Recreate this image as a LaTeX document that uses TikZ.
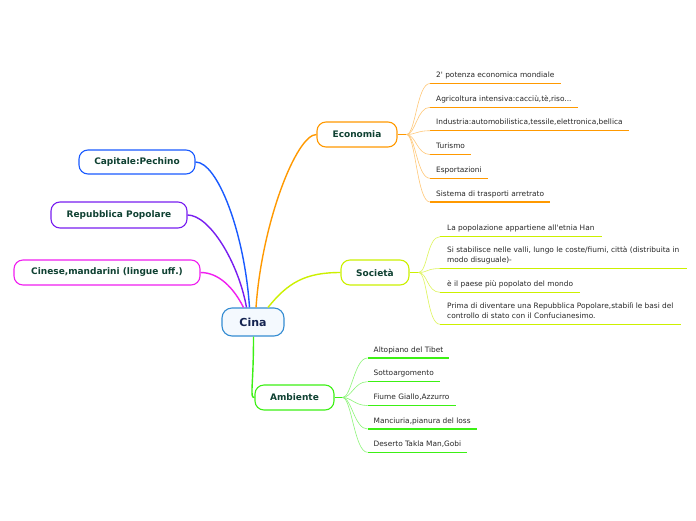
\documentclass[tikz,border=0pt]{standalone}
\usepackage{fontspec}
\setmainfont{DejaVu Sans}
\newfontfamily\plainfont{DejaVu Sans}
\definecolor{cinaB}{RGB}{52,140,210}
\definecolor{cinaF}{RGB}{244,249,254}
\definecolor{ecoC}{RGB}{255,153,0}
\definecolor{ecoL}{RGB}{255,200,120}
\definecolor{socC}{RGB}{204,240,0}
\definecolor{socL}{RGB}{222,245,90}
\definecolor{ambC}{RGB}{60,240,20}
\definecolor{ambL}{RGB}{140,245,120}
\definecolor{capC}{RGB}{25,90,255}
\definecolor{repC}{RGB}{120,30,240}
\definecolor{linC}{RGB}{240,30,240}
\definecolor{maintext}{RGB}{15,65,50}
\definecolor{cinatext}{RGB}{20,35,80}
\definecolor{leaftext}{RGB}{40,40,40}
\begin{document}
\begin{tikzpicture}[x=1pt,y=-1pt,
  mainbox/.style={draw, line width=1.1pt, rounded corners=9pt, fill=white, text=maintext,
    font=\fontsize{9}{11}\selectfont\bfseries, minimum height=25pt, inner sep=0pt},
  leaf/.style={anchor=south west, inner xsep=6pt, inner ysep=4pt, text=leaftext,
    font=\plainfont\fontsize{7.4}{10}\selectfont, align=left, text depth=1.7pt},
  branch/.style={line width=1.4pt},
  uline/.style={line width=1.5pt},
  thin/.style={line width=0.6pt},
  hubline/.style={line width=1.5pt}
]
\useasboundingbox[fill=white] (0,0) rectangle (696,520);

% central and main nodes
\node[draw=cinaB, fill=cinaF, line width=1.1pt, rounded corners=10pt, minimum width=62pt,
  minimum height=28pt, inner sep=0pt, font=\fontsize{11}{13}\selectfont\bfseries, text=cinatext]
  (cina) at (253,322) {Cina};
\node[mainbox, draw=ecoC, minimum width=80pt] (eco) at (357,134.5) {Economia};
\node[mainbox, draw=socC, minimum width=68pt] (soc) at (375,272.5) {Società};
\node[mainbox, draw=ambC, minimum width=79pt] (amb) at (294.5,397.5) {Ambiente};
\node[mainbox, draw=capC, minimum width=116pt, minimum height=24pt] (cap) at (137,162) {Capitale:Pechino};
\node[mainbox, draw=repC, minimum width=136pt, minimum height=26pt] (rep) at (119,215) {Repubblica Popolare};
\node[mainbox, draw=linC, minimum width=186pt] (lin) at (107,272.5) {Cinese,mandarini (lingue uff.)};

% main connectors
\draw[branch, capC] ([xshift=-3.5pt]cina.north) .. controls +(-5,-75) and +(22,0) .. (cap.east);
\draw[branch, repC] ([xshift=-6.5pt]cina.north) .. controls +(-8,-45) and +(22,0) .. (rep.east);
\draw[branch, linC] ([xshift=-9.5pt]cina.north) .. controls +(-10,-20) and +(18,0) .. (lin.east);
\draw[branch, ecoC] ([xshift=3pt]cina.north) .. controls +(6,-85) and +(-20,0) .. (eco.west);
\draw[branch, socC] ([xshift=15pt]cina.north) .. controls +(20,-25) and +(-35,0) .. (soc.west);
\draw[branch, ambC] ([xshift=0.5pt]cina.south) .. controls +(0,52) and +(-5,0) .. (amb.west);

% Economia leaves
\coordinate (ecohub) at ([xshift=9pt]eco.east);
\draw[hubline, ecoC] (eco.east) -- (ecohub);
\node[leaf] (e1) at (430,83.5) {2' potenza economica mondiale};
\node[leaf] (e2) at (430,107.3) {Agricoltura intensiva:cacciù,tè,riso...};
\node[leaf] (e3) at (430,130.7) {Industria:automobilistica,tessile,elettronica,bellica};
\node[leaf] (e4) at (430,154.5) {Turismo};
\node[leaf] (e5) at (430,178.3) {Esportazioni};
\node[leaf] (e6) at (430,202) {Sistema di trasporti arretrato};
\foreach \n in {e1,e2,e3,e4,e5,e6}{
  \draw[uline, ecoC] (\n.south west) -- (\n.south east);
  \draw[thin, ecoL] (ecohub) .. controls +(9,0) and +(-13,0) .. (\n.south west);
}

% Societa leaves
\coordinate (sochub) at ([xshift=9pt]soc.east);
\draw[hubline, socC] (soc.east) -- (sochub);
\node[leaf, inner xsep=7pt] (s1) at (440,236.7) {La popolazione appartiene all'etnia Han};
\node[leaf, inner xsep=7pt] (s2) at (440,268.5) {Si stabilisce nelle valli, lungo le coste/fiumi, città (distribuita in\\modo disuguale)-};
\node[leaf, inner xsep=7pt] (s3) at (440,292.3) {è il paese più popolato del mondo};
\node[leaf, inner xsep=7pt] (s4) at (440,324.3) {Prima di diventare una Repubblica Popolare,stabilì le basi del\\controllo di stato con il Confucianesimo.};
\foreach \n in {s1,s2,s3,s4}{
  \draw[uline, socC] (\n.south west) -- (\n.south east);
  \draw[thin, socL] (sochub) .. controls +(9,0) and +(-13,0) .. (\n.south west);
}

% Ambiente leaves
\coordinate (ambhub) at ([xshift=8pt]amb.east);
\draw[hubline, ambC] (amb.east) -- (ambhub);
\node[leaf] (a1) at (367.5,358) {Altopiano del Tibet};
\node[leaf] (a2) at (367.5,381.7) {Sottoargomento};
\node[leaf] (a3) at (367.5,405.5) {Fiume Giallo,Azzurro};
\node[leaf] (a4) at (367.5,429) {Manciuria,pianura del loss};
\node[leaf] (a5) at (367.5,452.3) {Deserto Takla Man,Gobi};
\foreach \n in {a1,a2,a3,a4,a5}{
  \draw[uline, ambC] (\n.south west) -- (\n.south east);
  \draw[thin, ambL] (ambhub) .. controls +(9,0) and +(-13,0) .. (\n.south west);
}
\end{tikzpicture}
\end{document}
